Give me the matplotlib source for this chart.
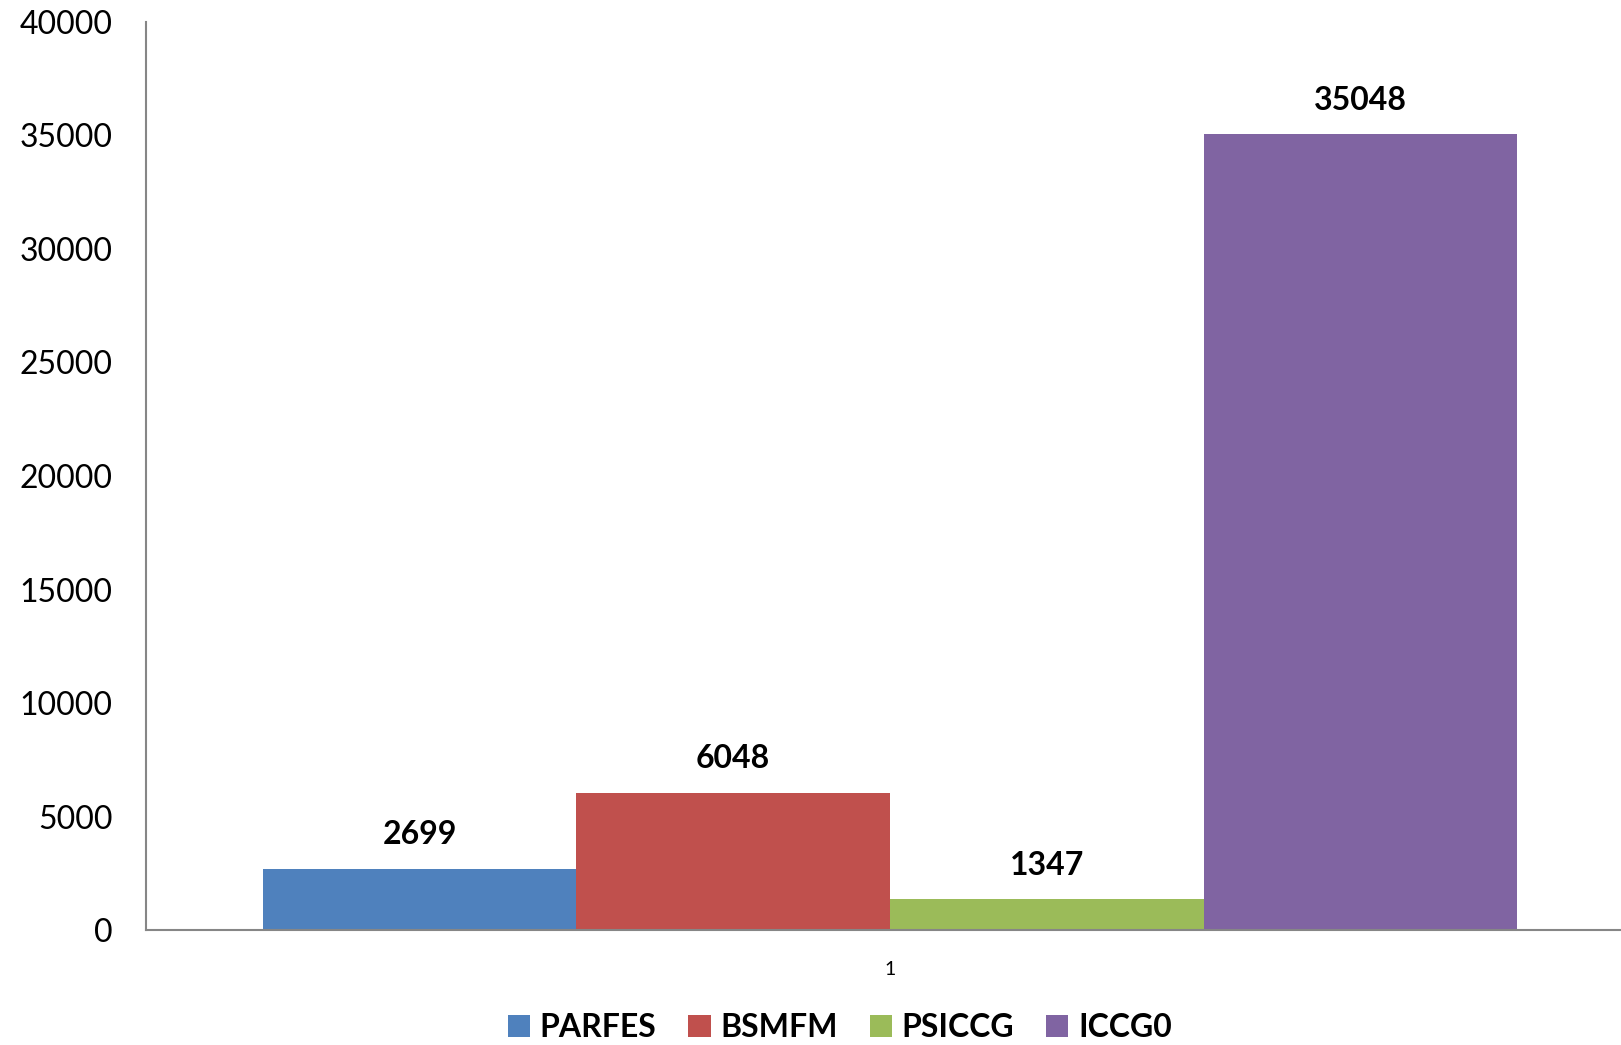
import numpy as np
import matplotlib.pyplot as plt

series = ["PARFES", "BSMFM", "PSICCG", "ICCG0"]
values = [2699, 6048, 1347, 35048]
colors = ["#4F81BD", "#C0504D", "#9BBB59", "#8064A2"]
category = ["1"]

plt.rcParams["font.family"] = ["Lato", "DejaVu Sans"]

fig = plt.figure(figsize=(16.21, 10.45), dpi=100)
ax = fig.add_axes([0.090, 0.110, 0.910, 0.869])

w = 0.2126
offsets = (np.arange(len(series)) - 1.5) * w
for off, v, c, name in zip(offsets, values, colors, series):
    ax.bar(off, v, width=w, color=c, label=name)
    ax.text(off, v + 850, str(v), ha="center", va="bottom",
            fontsize=23, fontweight="bold")

ax.set_xlim(-0.5044, 0.4956)
ax.set_ylim(0, 40000)
ax.set_yticks(np.arange(0, 40001, 5000))
ax.set_xticks([0])
ax.set_xticklabels(category, fontsize=14)
ax.tick_params(axis="y", length=0, labelsize=23, pad=24)
ax.tick_params(axis="x", length=0, pad=22)
for s in ["top", "right"]:
    ax.spines[s].set_visible(False)
for s in ["left", "bottom"]:
    ax.spines[s].set_color("#868686")
    ax.spines[s].set_linewidth(1.5)

leg = fig.legend(loc="lower center", bbox_to_anchor=(0.518, -0.025), ncol=4,
                 frameon=False, handlelength=0.7, handleheight=0.7,
                 handletextpad=0.3, columnspacing=1.0,
                 prop={"size": 23, "weight": "bold"})

plt.savefig("out.png", dpi=100)
